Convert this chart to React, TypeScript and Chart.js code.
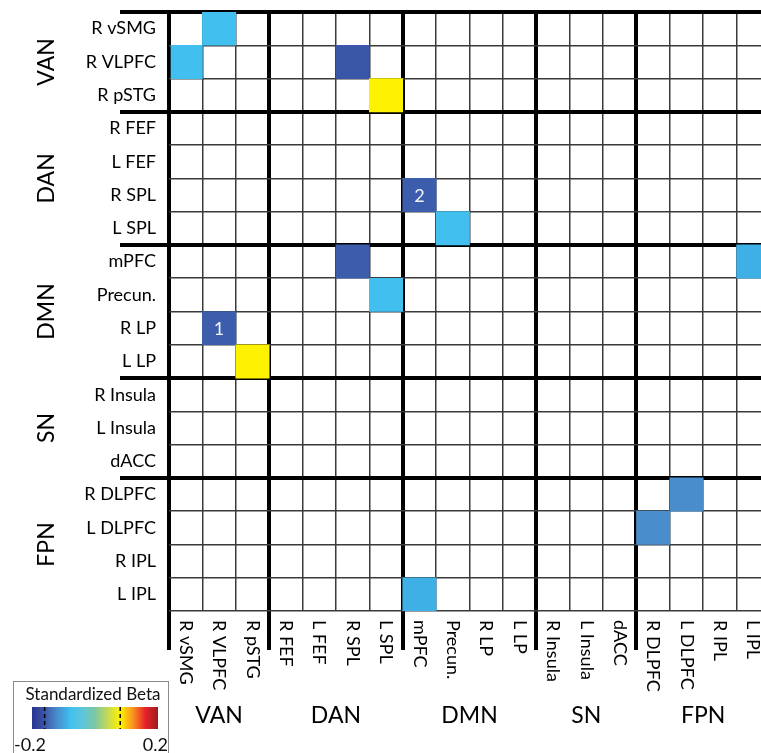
import React, { useEffect, useRef } from "react";
import { Chart, registerables } from "chart.js";

Chart.register(...registerables);

// ---------- data ----------
const regions = [
  "R vSMG", "R VLPFC", "R pSTG",
  "R FEF", "L FEF", "R SPL", "L SPL",
  "mPFC", "Precun.", "R LP", "L LP",
  "R Insula", "L Insula", "dACC",
  "R DLPFC", "L DLPFC", "R IPL", "L IPL",
];
const networks = ["VAN", "DAN", "DMN", "SN", "FPN"];
const networkSizes = [3, 4, 4, 3, 4];

// significant cells: row region index, column region index, standardized beta, note
const cellRows = [0, 1, 1, 2, 5, 6, 7, 7, 8, 9, 10, 14, 15, 17];
const cellCols = [1, 0, 5, 6, 7, 8, 5, 17, 6, 1, 2, 15, 14, 7];
const cellBetas = [-0.08, -0.08, -0.16, 0.08, -0.155, -0.08, -0.155, -0.09, -0.08, -0.155, 0.08, -0.12, -0.12, -0.09];
const cellNotes = ["", "", "", "", "2", "", "", "", "", "1", "", "", "", ""];

const betaMin = -0.2;
const betaMax = 0.2;
const legendTickValues = [-0.2, 0.2];
const legendMarkValues = [-0.16, 0.08];

const colorStopPos = [0, 0.1, 0.2, 0.275, 0.3, 0.4, 0.5, 0.6, 0.7, 0.8, 0.9, 1];
const colorStopHex = ["#29338f", "#3a56a7", "#4a8dcd", "#3fb0e6", "#41bfee", "#5cc6dc", "#7dc7a2", "#c4d957", "#fff200", "#f7941d", "#e8212a", "#9b1c20"];

const FONT = "Lato, 'Open Sans', sans-serif";
const LABEL_SIZE = 18;

// ---------- helpers ----------
function hexToRgb(h: string) {
  const n = parseInt(h.slice(1), 16);
  return [(n >> 16) & 255, (n >> 8) & 255, n & 255];
}
function betaColor(b: number) {
  const t = Math.max(0, Math.min(1, (b - betaMin) / (betaMax - betaMin)));
  for (let i = 1; i < colorStopPos.length; i++) {
    if (t <= colorStopPos[i]) {
      const p0 = colorStopPos[i - 1], p1 = colorStopPos[i];
      const f = (t - p0) / (p1 - p0);
      const a = hexToRgb(colorStopHex[i - 1]), c = hexToRgb(colorStopHex[i]);
      const r = a.map((v, k) => Math.round(v + (c[k] - v) * f));
      return `rgb(${r[0]},${r[1]},${r[2]})`;
    }
  }
  return colorStopHex[colorStopHex.length - 1];
}

const groupEdges: number[] = [0];
networkSizes.forEach((s) => groupEdges.push(groupEdges[groupEdges.length - 1] + s));

const thickX = (ctx: any) => ctx.tick && groupEdges.includes(Math.round(ctx.tick.value));
const thickY = (ctx: any) => groupEdges.includes(ctx.index);

const decorPlugin = {
  id: "decor",
  afterDraw(chart: any) {
    const { ctx } = chart;
    const xs = chart.scales.x;
    const ys = chart.scales.y;
    ctx.save();

    // notes inside cells
    const meta = chart.getDatasetMeta(0);
    ctx.fillStyle = "#eef2fa";
    ctx.font = `18px ${FONT}`;
    ctx.textAlign = "center";
    ctx.textBaseline = "middle";
    meta.data.forEach((el: any, i: number) => {
      if (!cellNotes[i]) return;
      ctx.fillText(cellNotes[i], (el.x + el.base) / 2, el.y + 1);
    });

    // column labels (rotated clockwise)
    ctx.fillStyle = "#000";
    ctx.font = `${LABEL_SIZE}px ${FONT}`;
    ctx.textAlign = "left";
    ctx.textBaseline = "middle";
    regions.forEach((r, i) => {
      const x = xs.getPixelForValue(i + 0.5);
      ctx.save();
      ctx.translate(x, xs.top + 9);
      ctx.rotate(Math.PI / 2);
      ctx.fillText(r, 0, 0);
      ctx.restore();
    });

    // network labels
    ctx.font = `23px ${FONT}`;
    ctx.textAlign = "center";
    ctx.textBaseline = "middle";
    networks.forEach((n, g) => {
      const a = groupEdges[g], b = groupEdges[g + 1];
      const cy = (ys.getPixelForValue(a) + ys.getPixelForValue(b - 1)) / 2;
      ctx.save();
      ctx.translate(47, cy);
      ctx.rotate(-Math.PI / 2);
      ctx.fillText(n, 0, 0);
      ctx.restore();
      const cx = (xs.getPixelForValue(a) + xs.getPixelForValue(b)) / 2;
      ctx.fillText(n, cx, 716);
    });

    // colour bar legend
    ctx.strokeStyle = "#8a8a8a";
    ctx.lineWidth = 1;
    ctx.strokeRect(13.5, 681.5, 155, 90);
    ctx.fillStyle = "#111";
    ctx.font = `17px ${FONT}`;
    ctx.textAlign = "center";
    ctx.textBaseline = "middle";
    ctx.fillText("Standardized Beta", 93, 695);
    const bx = 32, bw = 126, by = 707, bh = 22;
    const grad = ctx.createLinearGradient(bx, 0, bx + bw, 0);
    colorStopPos.forEach((p, i) => grad.addColorStop(p, colorStopHex[i]));
    ctx.fillStyle = grad;
    ctx.fillRect(bx, by, bw, bh);
    ctx.strokeStyle = "#000";
    ctx.lineWidth = 1.5;
    ctx.setLineDash([4, 3]);
    legendMarkValues.forEach((v) => {
      const x = bx + ((v - betaMin) / (betaMax - betaMin)) * bw;
      ctx.beginPath();
      ctx.moveTo(x, by);
      ctx.lineTo(x, by + bh);
      ctx.stroke();
    });
    ctx.setLineDash([]);
    ctx.fillStyle = "#111";
    ctx.font = `18px ${FONT}`;
    ctx.textBaseline = "alphabetic";
    ctx.textAlign = "left";
    ctx.fillText(String(legendTickValues[0]), 14, 751);
    ctx.textAlign = "right";
    ctx.fillText(String(legendTickValues[1]), 168, 751);

    ctx.restore();
  },
};

export default function App() {
  const ref = useRef<HTMLCanvasElement>(null);
  useEffect(() => {
    if (!ref.current) return;
    const chart = new Chart(ref.current, {
      type: "bar",
      data: {
        labels: regions,
        datasets: [
          {
            data: cellRows.map((r, i) => ({ y: regions[r], x: [cellCols[i], cellCols[i] + 1] })) as any,
            backgroundColor: cellBetas.map(betaColor),
            borderWidth: 0,
            barPercentage: 1,
            categoryPercentage: 1,
            grouped: false,
          },
        ],
      },
      plugins: [decorPlugin],
      options: {
        indexAxis: "y",
        responsive: false,
        animation: false,
        layout: { padding: { top: 12, right: 20, bottom: 0, left: 0 } },
        plugins: { legend: { display: false }, tooltip: { enabled: false } },
        scales: {
          x: {
            type: "linear",
            position: "bottom",
            min: 0,
            max: regions.length,
            z: 1,
            border: { display: false },
            ticks: { display: false, stepSize: 1 },
            grid: {
              lineWidth: (c: any) => (thickX(c) ? 4 : 1.5),
              color: (c: any) => (thickX(c) ? "#000" : "#3a3a3a"),
              tickLength: 39,
              tickWidth: (c: any) => (thickX(c) ? 4 : 0),
              tickColor: (c: any) => (thickX(c) ? "#000" : "rgba(0,0,0,0)"),
            },
            afterFit: (s: any) => {
              s.height = 142;
            },
          },
          y: {
            type: "category",
            position: "left",
            offset: true,
            z: 1,
            border: { display: false },
            ticks: {
              padding: -36,
              autoSkip: false,
              color: "#000",
              font: { size: LABEL_SIZE, family: FONT },
            },
            grid: {
              offset: true,
              lineWidth: (c: any) => (thickY(c) ? 4 : 1.5),
              color: (c: any) => (thickY(c) ? "#000" : "#3a3a3a"),
              tickLength: 49,
              tickWidth: (c: any) => (thickY(c) ? 4 : 0),
              tickColor: (c: any) => (thickY(c) ? "#000" : "rgba(0,0,0,0)"),
            },
            afterFit: (s: any) => {
              s.width = 169;
            },
          },
        },
      } as any,
    });
    return () => chart.destroy();
  }, []);
  return (
    <div style={{ position: "absolute", left: 0, top: 0, width: 761, height: 753, overflow: "hidden", background: "#fff" }}>
      <canvas ref={ref} width={790} height={753} style={{ display: "block" }} />
    </div>
  );
}
